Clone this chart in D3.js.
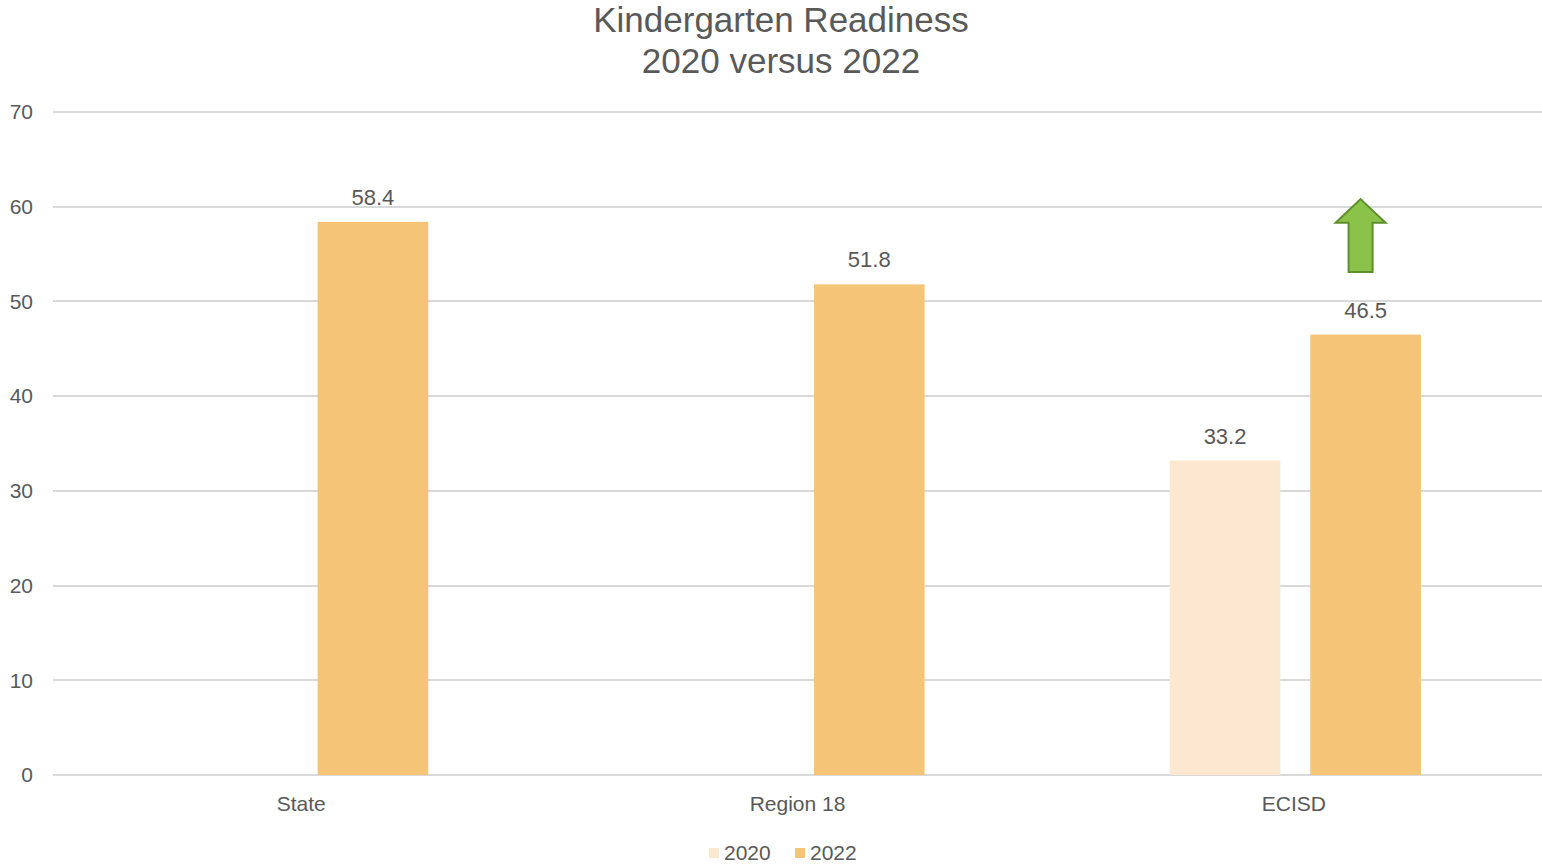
<!DOCTYPE html>
<meta charset="utf-8">
<style>
body {
  margin: 0;
  background: #fff;
  font-family: "Liberation Sans", Arial, sans-serif;
}
text {
  fill: #595959;
}
.grid line {
  stroke: #d9d9d9;
  stroke-width: 2px;
  shape-rendering: crispEdges;
}
</style>
<body>
<svg id="chart"></svg>
<script src="https://cdn.jsdelivr.net/npm/d3@7"></script>
<script>

var categories = ["State", "Region 18", "ECISD"];
var years = ["2020", "2022"];
var values2020 = [null, null, 33.2];
var values2022 = [58.4, 51.8, 46.5];
var yTicks = [0, 10, 20, 30, 40, 50, 60, 70];

var colors = {
  "2020": "#fce8d0",
  "2022": "#f5c477"
};

var width = 1542, height = 868;
var margin = {top: 112, right: 0, bottom: 93, left: 53};

var svg = d3.select("#chart")
    .attr("width", width)
    .attr("height", height);

var data = categories.map(function(c, i) {
  return {cat: c, "2020": values2020[i], "2022": values2022[i]};
});

// one band per category, no padding (Excel-like gap handled by inner scale)
var x0 = d3.scaleBand()
    .domain(categories)
    .range([margin.left, width - margin.right]);

var x1 = d3.scaleBand()
    .domain(years)
    .range([x0.bandwidth() * 0.25, x0.bandwidth() * 0.756])
    .paddingInner(0.213);

var y = d3.scaleLinear()
    .domain([0, 70])
    .range([height - margin.bottom, margin.top]);

// gridlines
svg.append("g")
    .attr("class", "grid")
  .selectAll("line")
  .data(yTicks)
  .enter().append("line")
    .attr("x1", margin.left)
    .attr("x2", width - margin.right)
    .attr("y1", d => Math.round(y(d)))
    .attr("y2", d => Math.round(y(d)));

// y tick labels
svg.append("g")
  .selectAll("text")
  .data(yTicks)
  .enter().append("text")
    .attr("x", 33)
    .attr("y", d => y(d))
    .attr("dy", "0.35em")
    .attr("text-anchor", "end")
    .style("font-size", "21px")
    .text(d => d);

// bars
var groups = svg.append("g")
  .selectAll("g")
  .data(data)
  .enter().append("g")
    .attr("transform", d => "translate(" + x0(d.cat) + ",0)");

var bars = groups.selectAll("g")
  .data(d => years.filter(k => d[k] != null).map(k => ({key: k, value: d[k]})))
  .enter().append("g");

bars.append("rect")
    .attr("x", d => x1(d.key))
    .attr("width", x1.bandwidth())
    .attr("y", d => y(d.value))
    .attr("height", d => y(0) - y(d.value))
    .attr("fill", d => colors[d.key]);

bars.append("text")
    .attr("x", d => x1(d.key) + x1.bandwidth() / 2)
    .attr("y", d => y(d.value) - 17)
    .attr("text-anchor", "middle")
    .style("font-size", "22px")
    .text(d => d.value.toFixed(1));

// category labels
svg.append("g")
  .selectAll("text")
  .data(categories)
  .enter().append("text")
    .attr("x", d => x0(d) + x0.bandwidth() / 2)
    .attr("y", y(0) + 36)
    .attr("text-anchor", "middle")
    .style("font-size", "21px")
    .text(d => d);

// green up arrow over ECISD 2022
var ax = x0("ECISD") + x1("2022") + x1.bandwidth() / 2 - 5;
var tip = y(60.8), headBase = y(58.3), bottom = y(53.1);
svg.append("path")
    .attr("d", "M" + ax + "," + tip +
      "L" + (ax + 25) + "," + headBase +
      "L" + (ax + 12) + "," + headBase +
      "L" + (ax + 12) + "," + bottom +
      "L" + (ax - 12) + "," + bottom +
      "L" + (ax - 12) + "," + headBase +
      "L" + (ax - 25) + "," + headBase + "Z")
    .attr("fill", "#8bc34a")
    .attr("stroke", "#5f8f2b")
    .attr("stroke-width", 2);

// title
var title = svg.append("text")
    .attr("x", 781)
    .attr("text-anchor", "middle")
    .style("font-size", "35px");
title.append("tspan").attr("x", 781).attr("y", 32).text("Kindergarten Readiness");
title.append("tspan").attr("x", 781).attr("y", 73).text("2020 versus 2022");

// legend
var legend = svg.append("g")
    .attr("transform", "translate(709,853)");
var li = legend.selectAll("g")
  .data(years)
  .enter().append("g")
    .attr("transform", (d, i) => "translate(" + (i * 86) + ",0)");
li.append("rect")
    .attr("y", -5)
    .attr("width", 10)
    .attr("height", 10)
    .attr("fill", d => colors[d]);
li.append("text")
    .attr("x", 15)
    .attr("dy", "0.35em")
    .style("font-size", "21px")
    .text(d => d);

</script>
